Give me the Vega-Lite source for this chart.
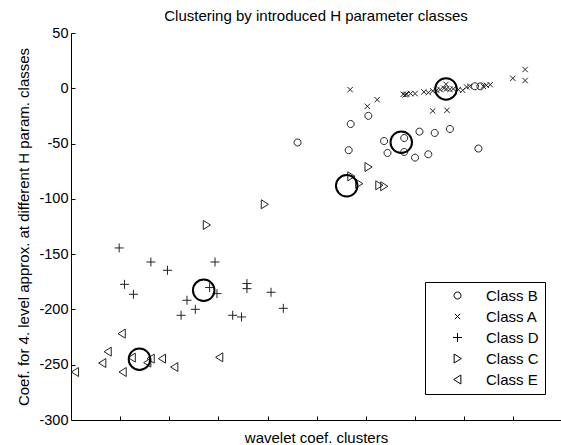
{
  "$schema": "https://vega.github.io/schema/vega-lite/v6.json",
  "autosize": {"type": "none"},
  "padding": {"left": 71, "top": 33, "right": 0, "bottom": 25},
  "width": 490,
  "height": 387,
  "background": "white",
  "config": {
    "font": "Liberation Sans",
    "view": {"stroke": null},
    "axis": {"grid": false, "domainColor": "#000", "tickColor": "#000", "labelColor": "#000", "titleColor": "#000", "labelFont": "Liberation Sans", "titleFont": "Liberation Sans", "labelFontSize": 14.5, "titleFontSize": 15, "titleFontWeight": "normal", "tickSize": -4, "domainWidth": 1, "tickWidth": 1}
  },
  "title": {"text": "Clustering by introduced H parameter classes", "fontSize": 15, "fontWeight": "normal", "font": "Liberation Sans", "color": "#000", "anchor": "middle", "frame": "group", "baseline": "alphabetic", "offset": 11, "dy": 22},
  "datasets": {
    "pts": [
      {"cls": "Class D", "x": 0.98, "y": -144.4},
      {"cls": "Class D", "x": 1.625, "y": -157.1},
      {"cls": "Class D", "x": 1.963, "y": -164.6},
      {"cls": "Class D", "x": 2.93, "y": -157.1},
      {"cls": "Class D", "x": 1.088, "y": -177.3},
      {"cls": "Class D", "x": 1.27, "y": -186.3},
      {"cls": "Class D", "x": 2.82, "y": -180.2},
      {"cls": "Class D", "x": 2.97, "y": -185.7},
      {"cls": "Class D", "x": 2.36, "y": -191.7},
      {"cls": "Class D", "x": 2.53, "y": -199.9},
      {"cls": "Class D", "x": 2.24, "y": -205.3},
      {"cls": "Class D", "x": 3.29, "y": -205.3},
      {"cls": "Class D", "x": 3.47, "y": -206.8},
      {"cls": "Class D", "x": 3.58, "y": -176.6},
      {"cls": "Class D", "x": 3.58, "y": -181.2},
      {"cls": "Class D", "x": 4.07, "y": -184.5},
      {"cls": "Class D", "x": 4.32, "y": -199.0},
      {"cls": "Class E", "x": 1.035, "y": -221.9},
      {"cls": "Class E", "x": 0.75, "y": -238.2},
      {"cls": "Class E", "x": 0.64, "y": -248.5},
      {"cls": "Class E", "x": 0.085, "y": -256.6},
      {"cls": "Class E", "x": 1.055, "y": -256.6},
      {"cls": "Class E", "x": 1.24, "y": -243.6},
      {"cls": "Class E", "x": 1.556, "y": -248.1},
      {"cls": "Class E", "x": 1.625, "y": -244.5},
      {"cls": "Class E", "x": 1.855, "y": -244.5},
      {"cls": "Class E", "x": 2.105, "y": -252.1},
      {"cls": "Class E", "x": 3.02, "y": -243.3},
      {"cls": "Class C", "x": 2.76, "y": -123.6},
      {"cls": "Class C", "x": 3.94, "y": -104.9},
      {"cls": "Class C", "x": 6.05, "y": -71.2},
      {"cls": "Class C", "x": 5.70, "y": -79.6},
      {"cls": "Class C", "x": 5.86, "y": -86.2},
      {"cls": "Class C", "x": 6.27, "y": -87.7},
      {"cls": "Class C", "x": 6.37, "y": -88.6},
      {"cls": "Class B", "x": 4.61, "y": -49.0},
      {"cls": "Class B", "x": 5.69, "y": -32.3},
      {"cls": "Class B", "x": 6.05, "y": -24.9},
      {"cls": "Class B", "x": 5.65, "y": -56.0},
      {"cls": "Class B", "x": 6.37, "y": -47.7},
      {"cls": "Class B", "x": 6.78, "y": -45.0},
      {"cls": "Class B", "x": 6.44, "y": -58.5},
      {"cls": "Class B", "x": 6.78, "y": -57.6},
      {"cls": "Class B", "x": 7.0, "y": -62.7},
      {"cls": "Class B", "x": 7.27, "y": -59.7},
      {"cls": "Class B", "x": 7.09, "y": -39.2},
      {"cls": "Class B", "x": 7.40, "y": -40.4},
      {"cls": "Class B", "x": 7.71, "y": -36.8},
      {"cls": "Class B", "x": 8.29, "y": -54.5},
      {"cls": "Class B", "x": 8.22, "y": 1.8},
      {"cls": "Class B", "x": 8.33, "y": 1.8},
      {"cls": "Class A", "x": 5.68, "y": -1.2},
      {"cls": "Class A", "x": 6.03, "y": -16.3},
      {"cls": "Class A", "x": 6.23, "y": -10.3},
      {"cls": "Class A", "x": 7.36, "y": -20.5},
      {"cls": "Class A", "x": 7.65, "y": -19.9},
      {"cls": "Class A", "x": 8.99, "y": 9.0},
      {"cls": "Class A", "x": 9.24, "y": 17.0},
      {"cls": "Class A", "x": 9.24, "y": 7.0},
      {"cls": "Class A", "x": 6.76, "y": -5.4},
      {"cls": "Class A", "x": 6.83, "y": -5.4},
      {"cls": "Class A", "x": 6.80, "y": -5.9},
      {"cls": "Class A", "x": 6.91, "y": -4.8},
      {"cls": "Class A", "x": 7.0, "y": -4.8},
      {"cls": "Class A", "x": 7.18, "y": -3.3},
      {"cls": "Class A", "x": 7.27, "y": -3.9},
      {"cls": "Class A", "x": 7.36, "y": -2.4},
      {"cls": "Class A", "x": 7.44, "y": -1.8},
      {"cls": "Class A", "x": 7.51, "y": -1.2},
      {"cls": "Class A", "x": 7.59, "y": 0.0},
      {"cls": "Class A", "x": 7.64, "y": -0.6},
      {"cls": "Class A", "x": 7.71, "y": -1.0},
      {"cls": "Class A", "x": 7.78, "y": -0.6},
      {"cls": "Class A", "x": 7.63, "y": 3.6},
      {"cls": "Class A", "x": 7.88, "y": -1.2},
      {"cls": "Class A", "x": 7.97, "y": -1.8},
      {"cls": "Class A", "x": 8.05, "y": 1.2},
      {"cls": "Class A", "x": 8.11, "y": 1.8},
      {"cls": "Class A", "x": 8.39, "y": 1.8},
      {"cls": "Class A", "x": 8.45, "y": 2.7},
      {"cls": "Class A", "x": 8.53, "y": 3.3}
    ],
    "centers": [
      {"cls": "Class D", "x": 2.70, "y": -182.7},
      {"cls": "Class E", "x": 1.393, "y": -245.0},
      {"cls": "Class C", "x": 5.61, "y": -88.2},
      {"cls": "Class B", "x": 6.72, "y": -48.8},
      {"cls": "Class A", "x": 7.63, "y": -0.6}
    ]
  },
  "layer": [
    {
      "data": {"name": "pts"},
      "mark": {"type": "point", "filled": false, "strokeWidth": 1, "color": "#222", "size": 81, "opacity": 1},
      "encoding": {
        "x": {"field": "x", "type": "quantitative", "scale": {"domain": [0, 9.97], "nice": false, "zero": false}, "axis": {"values": [1, 2, 3, 4, 5, 6, 7, 8, 9], "labels": false, "title": "wavelet coef. clusters", "titlePadding": 10}},
        "y": {"field": "y", "type": "quantitative", "scale": {"domain": [-300, 50], "nice": false, "zero": false}, "axis": {"values": [-300, -250, -200, -150, -100, -50, 0, 50], "labelExpr": "'' + datum.value", "labelPadding": 7, "title": "Coef. for 4. level approx. at different H param. classes", "titlePadding": 7}},
        "shape": {
          "field": "cls", "type": "nominal",
          "scale": {"domain": ["Class B", "Class A", "Class D", "Class C", "Class E"],
                    "range": ["M-0.78,0A0.78,0.78 0 1,0 0.78,0A0.78,0.78 0 1,0 -0.78,0Z", "M-0.6,-0.6L0.6,0.6M0.6,-0.6L-0.6,0.6", "M-1,0L1,0M0,-1L0,1", "M-0.75,-1L0.85,0L-0.75,1Z", "M0.75,-1L-0.85,0L0.75,1Z"]},
          "legend": {"title": null, "orient": "none", "legendX": 354, "legendY": 249, "padding": 6, "strokeColor": "#000", "fillColor": "white", "labelFontSize": 15, "labelFont": "Liberation Sans", "labelColor": "#000", "symbolSize": 81, "symbolStrokeColor": "#000", "symbolStrokeWidth": 1, "symbolFillColor": "transparent", "symbolOffset": 19, "labelOffset": 21, "rowPadding": 5, "cornerRadius": 0}
        }
      }
    },
    {
      "data": {"name": "centers"},
      "mark": {"type": "point", "shape": "circle", "filled": false, "strokeWidth": 2, "color": "#000", "size": 462, "opacity": 1},
      "encoding": {
        "x": {"field": "x", "type": "quantitative"},
        "y": {"field": "y", "type": "quantitative"}
      }
    }
  ]
}
